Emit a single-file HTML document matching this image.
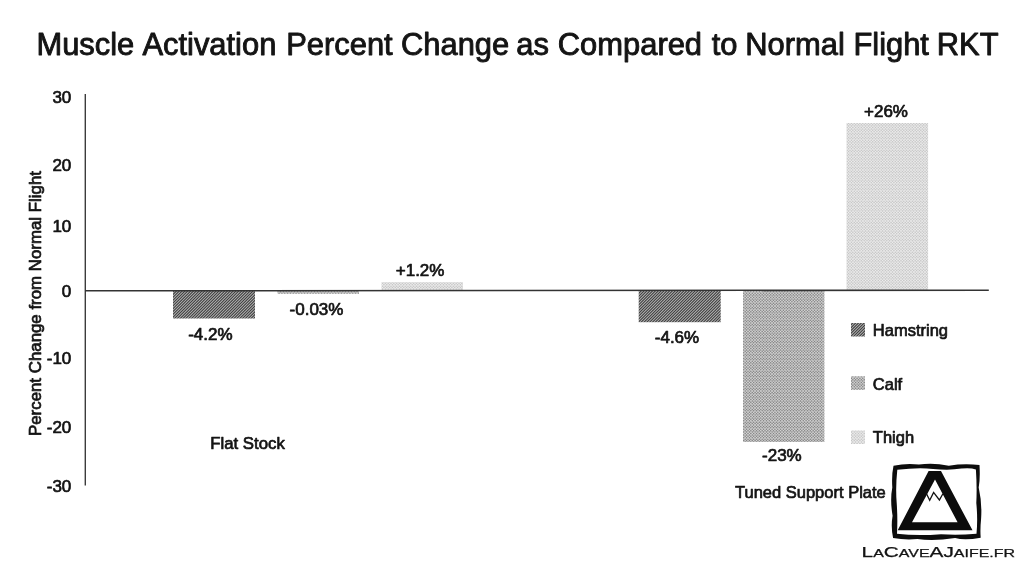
<!DOCTYPE html>
<html><head><meta charset="utf-8">
<style>
html,body{margin:0;padding:0;background:#fff;}
body{width:1024px;height:573px;overflow:hidden;position:relative;font-family:"Liberation Sans",sans-serif;color:#111;}
svg{position:absolute;left:0;top:0;}
text{font-family:"Liberation Sans",sans-serif;fill:#141414;stroke:#141414;stroke-width:0.7px;stroke-linejoin:round;}
</style></head><body>
<svg width="1024" height="573" viewBox="0 0 1024 573">
<defs>
<pattern id="pH" width="17" height="17" patternUnits="userSpaceOnUse"><rect width="17" height="17" fill="#b6b6b6"/><path d="M-24.67 19L-3.67 -2M-21.83 19L-0.83 -2M-19.00 19L2.00 -2M-16.17 19L4.83 -2M-13.33 19L7.67 -2M-10.50 19L10.50 -2M-7.67 19L13.33 -2M-4.83 19L16.17 -2M-2.00 19L19.00 -2M0.83 19L21.83 -2M3.67 19L24.67 -2M6.50 19L27.50 -2M9.33 19L30.33 -2M12.17 19L33.17 -2M15.00 19L36.00 -2M17.83 19L38.83 -2M20.67 19L41.67 -2" stroke="#3c3c3c" stroke-width="1.05" fill="none"/></pattern>
<pattern id="pC" width="17" height="17" patternUnits="userSpaceOnUse"><rect width="17" height="17" fill="#dcdcdc"/><path d="M-2.83 -3.83l1.00 1.00l-1.00 1.00l-1.00 -1.00zM-1.42 -2.42l1.00 1.00l-1.00 1.00l-1.00 -1.00zM-2.83 -1.00l1.00 1.00l-1.00 1.00l-1.00 -1.00zM-1.42 0.42l1.00 1.00l-1.00 1.00l-1.00 -1.00zM-2.83 1.83l1.00 1.00l-1.00 1.00l-1.00 -1.00zM-1.42 3.25l1.00 1.00l-1.00 1.00l-1.00 -1.00zM-2.83 4.67l1.00 1.00l-1.00 1.00l-1.00 -1.00zM-1.42 6.08l1.00 1.00l-1.00 1.00l-1.00 -1.00zM-2.83 7.50l1.00 1.00l-1.00 1.00l-1.00 -1.00zM-1.42 8.92l1.00 1.00l-1.00 1.00l-1.00 -1.00zM-2.83 10.33l1.00 1.00l-1.00 1.00l-1.00 -1.00zM-1.42 11.75l1.00 1.00l-1.00 1.00l-1.00 -1.00zM-2.83 13.17l1.00 1.00l-1.00 1.00l-1.00 -1.00zM-1.42 14.58l1.00 1.00l-1.00 1.00l-1.00 -1.00zM-2.83 16.00l1.00 1.00l-1.00 1.00l-1.00 -1.00zM-1.42 17.42l1.00 1.00l-1.00 1.00l-1.00 -1.00zM0.00 -3.83l1.00 1.00l-1.00 1.00l-1.00 -1.00zM1.42 -2.42l1.00 1.00l-1.00 1.00l-1.00 -1.00zM0.00 -1.00l1.00 1.00l-1.00 1.00l-1.00 -1.00zM1.42 0.42l1.00 1.00l-1.00 1.00l-1.00 -1.00zM0.00 1.83l1.00 1.00l-1.00 1.00l-1.00 -1.00zM1.42 3.25l1.00 1.00l-1.00 1.00l-1.00 -1.00zM0.00 4.67l1.00 1.00l-1.00 1.00l-1.00 -1.00zM1.42 6.08l1.00 1.00l-1.00 1.00l-1.00 -1.00zM0.00 7.50l1.00 1.00l-1.00 1.00l-1.00 -1.00zM1.42 8.92l1.00 1.00l-1.00 1.00l-1.00 -1.00zM0.00 10.33l1.00 1.00l-1.00 1.00l-1.00 -1.00zM1.42 11.75l1.00 1.00l-1.00 1.00l-1.00 -1.00zM0.00 13.17l1.00 1.00l-1.00 1.00l-1.00 -1.00zM1.42 14.58l1.00 1.00l-1.00 1.00l-1.00 -1.00zM0.00 16.00l1.00 1.00l-1.00 1.00l-1.00 -1.00zM1.42 17.42l1.00 1.00l-1.00 1.00l-1.00 -1.00zM2.83 -3.83l1.00 1.00l-1.00 1.00l-1.00 -1.00zM4.25 -2.42l1.00 1.00l-1.00 1.00l-1.00 -1.00zM2.83 -1.00l1.00 1.00l-1.00 1.00l-1.00 -1.00zM4.25 0.42l1.00 1.00l-1.00 1.00l-1.00 -1.00zM2.83 1.83l1.00 1.00l-1.00 1.00l-1.00 -1.00zM4.25 3.25l1.00 1.00l-1.00 1.00l-1.00 -1.00zM2.83 4.67l1.00 1.00l-1.00 1.00l-1.00 -1.00zM4.25 6.08l1.00 1.00l-1.00 1.00l-1.00 -1.00zM2.83 7.50l1.00 1.00l-1.00 1.00l-1.00 -1.00zM4.25 8.92l1.00 1.00l-1.00 1.00l-1.00 -1.00zM2.83 10.33l1.00 1.00l-1.00 1.00l-1.00 -1.00zM4.25 11.75l1.00 1.00l-1.00 1.00l-1.00 -1.00zM2.83 13.17l1.00 1.00l-1.00 1.00l-1.00 -1.00zM4.25 14.58l1.00 1.00l-1.00 1.00l-1.00 -1.00zM2.83 16.00l1.00 1.00l-1.00 1.00l-1.00 -1.00zM4.25 17.42l1.00 1.00l-1.00 1.00l-1.00 -1.00zM5.67 -3.83l1.00 1.00l-1.00 1.00l-1.00 -1.00zM7.08 -2.42l1.00 1.00l-1.00 1.00l-1.00 -1.00zM5.67 -1.00l1.00 1.00l-1.00 1.00l-1.00 -1.00zM7.08 0.42l1.00 1.00l-1.00 1.00l-1.00 -1.00zM5.67 1.83l1.00 1.00l-1.00 1.00l-1.00 -1.00zM7.08 3.25l1.00 1.00l-1.00 1.00l-1.00 -1.00zM5.67 4.67l1.00 1.00l-1.00 1.00l-1.00 -1.00zM7.08 6.08l1.00 1.00l-1.00 1.00l-1.00 -1.00zM5.67 7.50l1.00 1.00l-1.00 1.00l-1.00 -1.00zM7.08 8.92l1.00 1.00l-1.00 1.00l-1.00 -1.00zM5.67 10.33l1.00 1.00l-1.00 1.00l-1.00 -1.00zM7.08 11.75l1.00 1.00l-1.00 1.00l-1.00 -1.00zM5.67 13.17l1.00 1.00l-1.00 1.00l-1.00 -1.00zM7.08 14.58l1.00 1.00l-1.00 1.00l-1.00 -1.00zM5.67 16.00l1.00 1.00l-1.00 1.00l-1.00 -1.00zM7.08 17.42l1.00 1.00l-1.00 1.00l-1.00 -1.00zM8.50 -3.83l1.00 1.00l-1.00 1.00l-1.00 -1.00zM9.92 -2.42l1.00 1.00l-1.00 1.00l-1.00 -1.00zM8.50 -1.00l1.00 1.00l-1.00 1.00l-1.00 -1.00zM9.92 0.42l1.00 1.00l-1.00 1.00l-1.00 -1.00zM8.50 1.83l1.00 1.00l-1.00 1.00l-1.00 -1.00zM9.92 3.25l1.00 1.00l-1.00 1.00l-1.00 -1.00zM8.50 4.67l1.00 1.00l-1.00 1.00l-1.00 -1.00zM9.92 6.08l1.00 1.00l-1.00 1.00l-1.00 -1.00zM8.50 7.50l1.00 1.00l-1.00 1.00l-1.00 -1.00zM9.92 8.92l1.00 1.00l-1.00 1.00l-1.00 -1.00zM8.50 10.33l1.00 1.00l-1.00 1.00l-1.00 -1.00zM9.92 11.75l1.00 1.00l-1.00 1.00l-1.00 -1.00zM8.50 13.17l1.00 1.00l-1.00 1.00l-1.00 -1.00zM9.92 14.58l1.00 1.00l-1.00 1.00l-1.00 -1.00zM8.50 16.00l1.00 1.00l-1.00 1.00l-1.00 -1.00zM9.92 17.42l1.00 1.00l-1.00 1.00l-1.00 -1.00zM11.33 -3.83l1.00 1.00l-1.00 1.00l-1.00 -1.00zM12.75 -2.42l1.00 1.00l-1.00 1.00l-1.00 -1.00zM11.33 -1.00l1.00 1.00l-1.00 1.00l-1.00 -1.00zM12.75 0.42l1.00 1.00l-1.00 1.00l-1.00 -1.00zM11.33 1.83l1.00 1.00l-1.00 1.00l-1.00 -1.00zM12.75 3.25l1.00 1.00l-1.00 1.00l-1.00 -1.00zM11.33 4.67l1.00 1.00l-1.00 1.00l-1.00 -1.00zM12.75 6.08l1.00 1.00l-1.00 1.00l-1.00 -1.00zM11.33 7.50l1.00 1.00l-1.00 1.00l-1.00 -1.00zM12.75 8.92l1.00 1.00l-1.00 1.00l-1.00 -1.00zM11.33 10.33l1.00 1.00l-1.00 1.00l-1.00 -1.00zM12.75 11.75l1.00 1.00l-1.00 1.00l-1.00 -1.00zM11.33 13.17l1.00 1.00l-1.00 1.00l-1.00 -1.00zM12.75 14.58l1.00 1.00l-1.00 1.00l-1.00 -1.00zM11.33 16.00l1.00 1.00l-1.00 1.00l-1.00 -1.00zM12.75 17.42l1.00 1.00l-1.00 1.00l-1.00 -1.00zM14.17 -3.83l1.00 1.00l-1.00 1.00l-1.00 -1.00zM15.58 -2.42l1.00 1.00l-1.00 1.00l-1.00 -1.00zM14.17 -1.00l1.00 1.00l-1.00 1.00l-1.00 -1.00zM15.58 0.42l1.00 1.00l-1.00 1.00l-1.00 -1.00zM14.17 1.83l1.00 1.00l-1.00 1.00l-1.00 -1.00zM15.58 3.25l1.00 1.00l-1.00 1.00l-1.00 -1.00zM14.17 4.67l1.00 1.00l-1.00 1.00l-1.00 -1.00zM15.58 6.08l1.00 1.00l-1.00 1.00l-1.00 -1.00zM14.17 7.50l1.00 1.00l-1.00 1.00l-1.00 -1.00zM15.58 8.92l1.00 1.00l-1.00 1.00l-1.00 -1.00zM14.17 10.33l1.00 1.00l-1.00 1.00l-1.00 -1.00zM15.58 11.75l1.00 1.00l-1.00 1.00l-1.00 -1.00zM14.17 13.17l1.00 1.00l-1.00 1.00l-1.00 -1.00zM15.58 14.58l1.00 1.00l-1.00 1.00l-1.00 -1.00zM14.17 16.00l1.00 1.00l-1.00 1.00l-1.00 -1.00zM15.58 17.42l1.00 1.00l-1.00 1.00l-1.00 -1.00zM17.00 -3.83l1.00 1.00l-1.00 1.00l-1.00 -1.00zM18.42 -2.42l1.00 1.00l-1.00 1.00l-1.00 -1.00zM17.00 -1.00l1.00 1.00l-1.00 1.00l-1.00 -1.00zM18.42 0.42l1.00 1.00l-1.00 1.00l-1.00 -1.00zM17.00 1.83l1.00 1.00l-1.00 1.00l-1.00 -1.00zM18.42 3.25l1.00 1.00l-1.00 1.00l-1.00 -1.00zM17.00 4.67l1.00 1.00l-1.00 1.00l-1.00 -1.00zM18.42 6.08l1.00 1.00l-1.00 1.00l-1.00 -1.00zM17.00 7.50l1.00 1.00l-1.00 1.00l-1.00 -1.00zM18.42 8.92l1.00 1.00l-1.00 1.00l-1.00 -1.00zM17.00 10.33l1.00 1.00l-1.00 1.00l-1.00 -1.00zM18.42 11.75l1.00 1.00l-1.00 1.00l-1.00 -1.00zM17.00 13.17l1.00 1.00l-1.00 1.00l-1.00 -1.00zM18.42 14.58l1.00 1.00l-1.00 1.00l-1.00 -1.00zM17.00 16.00l1.00 1.00l-1.00 1.00l-1.00 -1.00zM18.42 17.42l1.00 1.00l-1.00 1.00l-1.00 -1.00z" fill="#848484"/></pattern>
<pattern id="pT" width="17" height="17" patternUnits="userSpaceOnUse"><rect width="17" height="17" fill="#f0f0f0"/><path d="M-2.83 -3.83l1.00 1.00l-1.00 1.00l-1.00 -1.00zM-1.42 -2.42l1.00 1.00l-1.00 1.00l-1.00 -1.00zM-2.83 -1.00l1.00 1.00l-1.00 1.00l-1.00 -1.00zM-1.42 0.42l1.00 1.00l-1.00 1.00l-1.00 -1.00zM-2.83 1.83l1.00 1.00l-1.00 1.00l-1.00 -1.00zM-1.42 3.25l1.00 1.00l-1.00 1.00l-1.00 -1.00zM-2.83 4.67l1.00 1.00l-1.00 1.00l-1.00 -1.00zM-1.42 6.08l1.00 1.00l-1.00 1.00l-1.00 -1.00zM-2.83 7.50l1.00 1.00l-1.00 1.00l-1.00 -1.00zM-1.42 8.92l1.00 1.00l-1.00 1.00l-1.00 -1.00zM-2.83 10.33l1.00 1.00l-1.00 1.00l-1.00 -1.00zM-1.42 11.75l1.00 1.00l-1.00 1.00l-1.00 -1.00zM-2.83 13.17l1.00 1.00l-1.00 1.00l-1.00 -1.00zM-1.42 14.58l1.00 1.00l-1.00 1.00l-1.00 -1.00zM-2.83 16.00l1.00 1.00l-1.00 1.00l-1.00 -1.00zM-1.42 17.42l1.00 1.00l-1.00 1.00l-1.00 -1.00zM0.00 -3.83l1.00 1.00l-1.00 1.00l-1.00 -1.00zM1.42 -2.42l1.00 1.00l-1.00 1.00l-1.00 -1.00zM0.00 -1.00l1.00 1.00l-1.00 1.00l-1.00 -1.00zM1.42 0.42l1.00 1.00l-1.00 1.00l-1.00 -1.00zM0.00 1.83l1.00 1.00l-1.00 1.00l-1.00 -1.00zM1.42 3.25l1.00 1.00l-1.00 1.00l-1.00 -1.00zM0.00 4.67l1.00 1.00l-1.00 1.00l-1.00 -1.00zM1.42 6.08l1.00 1.00l-1.00 1.00l-1.00 -1.00zM0.00 7.50l1.00 1.00l-1.00 1.00l-1.00 -1.00zM1.42 8.92l1.00 1.00l-1.00 1.00l-1.00 -1.00zM0.00 10.33l1.00 1.00l-1.00 1.00l-1.00 -1.00zM1.42 11.75l1.00 1.00l-1.00 1.00l-1.00 -1.00zM0.00 13.17l1.00 1.00l-1.00 1.00l-1.00 -1.00zM1.42 14.58l1.00 1.00l-1.00 1.00l-1.00 -1.00zM0.00 16.00l1.00 1.00l-1.00 1.00l-1.00 -1.00zM1.42 17.42l1.00 1.00l-1.00 1.00l-1.00 -1.00zM2.83 -3.83l1.00 1.00l-1.00 1.00l-1.00 -1.00zM4.25 -2.42l1.00 1.00l-1.00 1.00l-1.00 -1.00zM2.83 -1.00l1.00 1.00l-1.00 1.00l-1.00 -1.00zM4.25 0.42l1.00 1.00l-1.00 1.00l-1.00 -1.00zM2.83 1.83l1.00 1.00l-1.00 1.00l-1.00 -1.00zM4.25 3.25l1.00 1.00l-1.00 1.00l-1.00 -1.00zM2.83 4.67l1.00 1.00l-1.00 1.00l-1.00 -1.00zM4.25 6.08l1.00 1.00l-1.00 1.00l-1.00 -1.00zM2.83 7.50l1.00 1.00l-1.00 1.00l-1.00 -1.00zM4.25 8.92l1.00 1.00l-1.00 1.00l-1.00 -1.00zM2.83 10.33l1.00 1.00l-1.00 1.00l-1.00 -1.00zM4.25 11.75l1.00 1.00l-1.00 1.00l-1.00 -1.00zM2.83 13.17l1.00 1.00l-1.00 1.00l-1.00 -1.00zM4.25 14.58l1.00 1.00l-1.00 1.00l-1.00 -1.00zM2.83 16.00l1.00 1.00l-1.00 1.00l-1.00 -1.00zM4.25 17.42l1.00 1.00l-1.00 1.00l-1.00 -1.00zM5.67 -3.83l1.00 1.00l-1.00 1.00l-1.00 -1.00zM7.08 -2.42l1.00 1.00l-1.00 1.00l-1.00 -1.00zM5.67 -1.00l1.00 1.00l-1.00 1.00l-1.00 -1.00zM7.08 0.42l1.00 1.00l-1.00 1.00l-1.00 -1.00zM5.67 1.83l1.00 1.00l-1.00 1.00l-1.00 -1.00zM7.08 3.25l1.00 1.00l-1.00 1.00l-1.00 -1.00zM5.67 4.67l1.00 1.00l-1.00 1.00l-1.00 -1.00zM7.08 6.08l1.00 1.00l-1.00 1.00l-1.00 -1.00zM5.67 7.50l1.00 1.00l-1.00 1.00l-1.00 -1.00zM7.08 8.92l1.00 1.00l-1.00 1.00l-1.00 -1.00zM5.67 10.33l1.00 1.00l-1.00 1.00l-1.00 -1.00zM7.08 11.75l1.00 1.00l-1.00 1.00l-1.00 -1.00zM5.67 13.17l1.00 1.00l-1.00 1.00l-1.00 -1.00zM7.08 14.58l1.00 1.00l-1.00 1.00l-1.00 -1.00zM5.67 16.00l1.00 1.00l-1.00 1.00l-1.00 -1.00zM7.08 17.42l1.00 1.00l-1.00 1.00l-1.00 -1.00zM8.50 -3.83l1.00 1.00l-1.00 1.00l-1.00 -1.00zM9.92 -2.42l1.00 1.00l-1.00 1.00l-1.00 -1.00zM8.50 -1.00l1.00 1.00l-1.00 1.00l-1.00 -1.00zM9.92 0.42l1.00 1.00l-1.00 1.00l-1.00 -1.00zM8.50 1.83l1.00 1.00l-1.00 1.00l-1.00 -1.00zM9.92 3.25l1.00 1.00l-1.00 1.00l-1.00 -1.00zM8.50 4.67l1.00 1.00l-1.00 1.00l-1.00 -1.00zM9.92 6.08l1.00 1.00l-1.00 1.00l-1.00 -1.00zM8.50 7.50l1.00 1.00l-1.00 1.00l-1.00 -1.00zM9.92 8.92l1.00 1.00l-1.00 1.00l-1.00 -1.00zM8.50 10.33l1.00 1.00l-1.00 1.00l-1.00 -1.00zM9.92 11.75l1.00 1.00l-1.00 1.00l-1.00 -1.00zM8.50 13.17l1.00 1.00l-1.00 1.00l-1.00 -1.00zM9.92 14.58l1.00 1.00l-1.00 1.00l-1.00 -1.00zM8.50 16.00l1.00 1.00l-1.00 1.00l-1.00 -1.00zM9.92 17.42l1.00 1.00l-1.00 1.00l-1.00 -1.00zM11.33 -3.83l1.00 1.00l-1.00 1.00l-1.00 -1.00zM12.75 -2.42l1.00 1.00l-1.00 1.00l-1.00 -1.00zM11.33 -1.00l1.00 1.00l-1.00 1.00l-1.00 -1.00zM12.75 0.42l1.00 1.00l-1.00 1.00l-1.00 -1.00zM11.33 1.83l1.00 1.00l-1.00 1.00l-1.00 -1.00zM12.75 3.25l1.00 1.00l-1.00 1.00l-1.00 -1.00zM11.33 4.67l1.00 1.00l-1.00 1.00l-1.00 -1.00zM12.75 6.08l1.00 1.00l-1.00 1.00l-1.00 -1.00zM11.33 7.50l1.00 1.00l-1.00 1.00l-1.00 -1.00zM12.75 8.92l1.00 1.00l-1.00 1.00l-1.00 -1.00zM11.33 10.33l1.00 1.00l-1.00 1.00l-1.00 -1.00zM12.75 11.75l1.00 1.00l-1.00 1.00l-1.00 -1.00zM11.33 13.17l1.00 1.00l-1.00 1.00l-1.00 -1.00zM12.75 14.58l1.00 1.00l-1.00 1.00l-1.00 -1.00zM11.33 16.00l1.00 1.00l-1.00 1.00l-1.00 -1.00zM12.75 17.42l1.00 1.00l-1.00 1.00l-1.00 -1.00zM14.17 -3.83l1.00 1.00l-1.00 1.00l-1.00 -1.00zM15.58 -2.42l1.00 1.00l-1.00 1.00l-1.00 -1.00zM14.17 -1.00l1.00 1.00l-1.00 1.00l-1.00 -1.00zM15.58 0.42l1.00 1.00l-1.00 1.00l-1.00 -1.00zM14.17 1.83l1.00 1.00l-1.00 1.00l-1.00 -1.00zM15.58 3.25l1.00 1.00l-1.00 1.00l-1.00 -1.00zM14.17 4.67l1.00 1.00l-1.00 1.00l-1.00 -1.00zM15.58 6.08l1.00 1.00l-1.00 1.00l-1.00 -1.00zM14.17 7.50l1.00 1.00l-1.00 1.00l-1.00 -1.00zM15.58 8.92l1.00 1.00l-1.00 1.00l-1.00 -1.00zM14.17 10.33l1.00 1.00l-1.00 1.00l-1.00 -1.00zM15.58 11.75l1.00 1.00l-1.00 1.00l-1.00 -1.00zM14.17 13.17l1.00 1.00l-1.00 1.00l-1.00 -1.00zM15.58 14.58l1.00 1.00l-1.00 1.00l-1.00 -1.00zM14.17 16.00l1.00 1.00l-1.00 1.00l-1.00 -1.00zM15.58 17.42l1.00 1.00l-1.00 1.00l-1.00 -1.00zM17.00 -3.83l1.00 1.00l-1.00 1.00l-1.00 -1.00zM18.42 -2.42l1.00 1.00l-1.00 1.00l-1.00 -1.00zM17.00 -1.00l1.00 1.00l-1.00 1.00l-1.00 -1.00zM18.42 0.42l1.00 1.00l-1.00 1.00l-1.00 -1.00zM17.00 1.83l1.00 1.00l-1.00 1.00l-1.00 -1.00zM18.42 3.25l1.00 1.00l-1.00 1.00l-1.00 -1.00zM17.00 4.67l1.00 1.00l-1.00 1.00l-1.00 -1.00zM18.42 6.08l1.00 1.00l-1.00 1.00l-1.00 -1.00zM17.00 7.50l1.00 1.00l-1.00 1.00l-1.00 -1.00zM18.42 8.92l1.00 1.00l-1.00 1.00l-1.00 -1.00zM17.00 10.33l1.00 1.00l-1.00 1.00l-1.00 -1.00zM18.42 11.75l1.00 1.00l-1.00 1.00l-1.00 -1.00zM17.00 13.17l1.00 1.00l-1.00 1.00l-1.00 -1.00zM18.42 14.58l1.00 1.00l-1.00 1.00l-1.00 -1.00zM17.00 16.00l1.00 1.00l-1.00 1.00l-1.00 -1.00zM18.42 17.42l1.00 1.00l-1.00 1.00l-1.00 -1.00z" fill="#c6c6c6"/></pattern>
</defs>
<text id="title" x="36.45" y="54.6" font-size="30.9" style="stroke-width:0.9px">Muscle <tspan dx="1.25">Activation</tspan> <tspan dx="1.25">Percent</tspan> <tspan dx="-0.25">Change</tspan> <tspan dx="-1.5">as</tspan> <tspan dx="0.25">Compared</tspan> <tspan dx="1">to</tspan> <tspan dx="-0.75">Normal</tspan> Flight <tspan dx="-0.75">RKT</tspan></text>

<!-- bars -->
<rect x="173" y="290" width="82" height="28.5" fill="url(#pH)"/>
<rect x="277.5" y="290" width="81.5" height="3.8" fill="url(#pC)"/>
<rect x="381.5" y="282.2" width="81.5" height="8" fill="url(#pT)"/>
<rect x="638.7" y="290" width="82" height="32.2" fill="url(#pH)"/>
<rect x="743" y="290" width="81.4" height="152" fill="url(#pC)"/>
<rect x="846.5" y="123" width="81.6" height="167.5" fill="url(#pT)"/>

<!-- axes -->
<line x1="85.3" y1="94" x2="85.3" y2="485.5" stroke="#3c3c3c" stroke-width="1.4"/>
<line x1="85" y1="290.8" x2="988.8" y2="290.2" stroke="#333" stroke-width="1.55"/>

<!-- y ticks -->
<g font-size="17" text-anchor="end">
<text x="71.3" y="102.7">30</text>
<text x="71.3" y="171">20</text>
<text x="71.3" y="231.9">10</text>
<text x="71.3" y="296.9">0</text>
<text x="71.3" y="364">-10</text>
<text x="71.3" y="432.6">-20</text>
<text x="71.3" y="492.4">-30</text>
</g>
<text transform="translate(41.3,436) rotate(-90)" font-size="16.85">Percent Change from Normal Flight</text>

<!-- labels -->
<g font-size="17" text-anchor="middle">
<text x="210.4" y="339.7">-4.2%</text>
<text x="316.5" y="314.7">-0.03%</text>
<text x="420.1" y="275.6">+1.2%</text>
<text x="677" y="343.4">-4.6%</text>
<text x="781.9" y="460.6">-23%</text>
<text x="886" y="117.3">+26%</text>
</g>
<g font-size="16.5">
<text x="210.2" y="448.5" font-size="16.8">Flat Stock</text>
<text x="735" y="498.1">Tuned Support Plate</text>
<text x="872.8" y="335.6">Hamstring</text>
<text x="872.8" y="389.5">Calf</text>
<text x="872.8" y="443">Thigh</text>
</g>
<rect x="851" y="323" width="14" height="13.5" fill="url(#pH)"/>
<rect x="851" y="376.3" width="14" height="13.5" fill="url(#pC)"/>
<rect x="851" y="430.5" width="14" height="13.5" fill="url(#pT)"/>

<!-- logo -->
<g>
<path d="M893.5 465.7 Q906.4 463.1 919.0 464.6 Q933.1 462.6 948.8 465.7 Q964.6 463.1 979.5 465.1 Q980.3 479.6 978.7 487.4 Q982.2 503.1 981.1 518.8 Q980.0 529.8 980.7 537.7 Q964.6 540.8 955.1 538.0 Q933.1 541.6 917.4 539.0 Q904.9 540.1 893.1 538.0 Q890.7 526.7 892.6 515.7 Q889.9 500.0 892.3 487.4 Q891.5 474.9 893.5 465.7 Z M897.3 469.8 Q917.4 467.3 933.1 468.9 Q948.8 470.5 961.4 468.6 Q970.8 467.8 975.9 469.4 Q977.1 487.4 976.3 503.1 Q977.9 518.8 976.5 533.8 Q956.7 535.3 941.0 534.2 Q917.4 536.1 897.0 533.8 Q897.8 518.8 896.7 503.1 Q895.4 487.4 897.3 469.8 Z" fill="#0c0c0c" fill-rule="evenodd"/>
<path d="M928.6 471 L941 471 L972.5 530.3 L897.7 530.3 Z M935 479.6 L912 522.3 L957.6 522.3 Z" fill="#0c0c0c" fill-rule="evenodd"/>
<path d="M926.5 493.7 L929.7 500.3 L933.6 492.4 L939.4 500 L942.9 493.7" fill="none" stroke="#111" stroke-width="1.3" stroke-linejoin="miter"/>
<text id="cap" x="861.6" y="557" font-size="13.8" textLength="153.4" lengthAdjust="spacingAndGlyphs" style="stroke-width:0.25px"><tspan>L</tspan><tspan font-size="10.6">A</tspan>C<tspan font-size="10.6">AVE</tspan>AJ<tspan font-size="10.6">AIFE.FR</tspan></text>
</g>
</svg>
</body></html>
